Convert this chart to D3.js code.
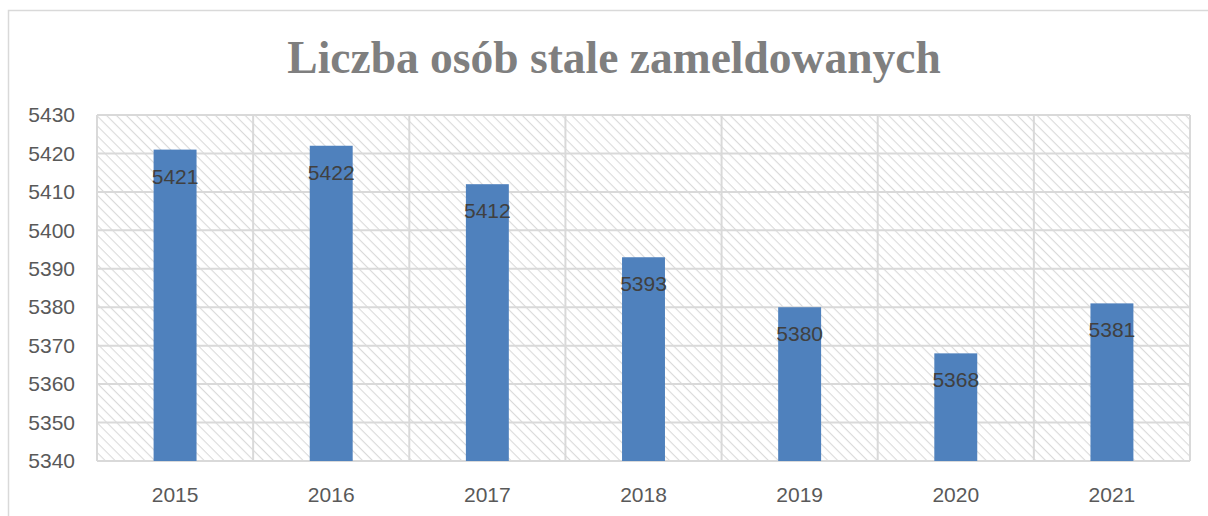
<!DOCTYPE html>
<html>

<head>
	<meta charset="utf-8">
	<script src="https://cdn.jsdelivr.net/npm/d3@7"></script>
	<style>
		body {
			margin: 0;
			background: #fff;
		}

		.tick text {
			font-family: "Liberation Sans", Arial, sans-serif;
			font-size: 21px;
			fill: #595959;
		}
	</style>
</head>

<body>
	<svg></svg>
	<script>
		var years = ["2015", "2016", "2017", "2018", "2019", "2020", "2021"];
		var residents = [5421, 5422, 5412, 5393, 5380, 5368, 5381];
		var yTicks = [5340, 5350, 5360, 5370, 5380, 5390, 5400, 5410, 5420, 5430];
		var title = "Liczba osób stale zameldowanych";

		var W = 1208, H = 516;
		var margins = { left: 97, right: 18, top: 115, bottom: 55 };
		var width = W - margins.left - margins.right;
		var height = H - margins.top - margins.bottom;

		var svg = d3.select("svg")
			.attr("width", W)
			.attr("height", H);

		// diagonal hatch behind the plot
		var pat = svg.append("defs").append("pattern")
			.attr("id", "hatch")
			.attr("patternUnits", "userSpaceOnUse")
			.attr("width", 7)
			.attr("height", 7)
			.attr("patternTransform", "rotate(45)");
		pat.append("rect").attr("width", 7).attr("height", 7).attr("fill", "#fff");
		pat.append("line")
			.attr("x1", 0).attr("y1", 0).attr("x2", 7).attr("y2", 0)
			.attr("stroke", "#dadada")
			.attr("stroke-width", 2.2);

		// outer chart border
		svg.append("rect")
			.attr("x", 8.5).attr("y", 10.5)
			.attr("width", W).attr("height", H)
			.attr("fill", "none")
			.attr("stroke", "#d9d9d9")
			.attr("stroke-width", 1.5);

		svg.append("text")
			.attr("x", 614)
			.attr("y", 73)
			.attr("text-anchor", "middle")
			.attr("font-family", "'Liberation Serif', 'DejaVu Serif', serif")
			.attr("font-weight", "bold")
			.attr("font-size", 45.5)
			.attr("fill", "#7f7f7f")
			.text(title);

		var g = svg.append("g")
			.attr("transform", "translate(" + margins.left + "," + margins.top + ")");

		var x = d3.scaleBand()
			.domain(years)
			.range([0, width])
			.paddingInner(0.725)
			.paddingOuter(0.3625);
		var xBand = d3.scaleBand().domain(years).range([0, width]);

		var y = d3.scaleLinear()
			.domain([5340, 5430])
			.range([height, 0]);

		g.append("rect")
			.attr("width", width)
			.attr("height", height)
			.attr("fill", "url(#hatch)");

		// horizontal grid
		g.selectAll(".hgrid")
			.data(yTicks)
			.enter()
			.append("line")
			.attr("class", "hgrid")
			.attr("x1", 0).attr("x2", width)
			.attr("y1", d => y(d)).attr("y2", d => y(d))
			.attr("stroke", "#d9d9d9")
			.attr("stroke-width", 2);

		// vertical grid at category edges
		var edges = years.map(d => xBand(d)).concat([width]);
		g.selectAll(".vgrid")
			.data(edges)
			.enter()
			.append("line")
			.attr("class", "vgrid")
			.attr("y1", 0).attr("y2", height)
			.attr("x1", d => d).attr("x2", d => d)
			.attr("stroke", "#d9d9d9")
			.attr("stroke-width", 2);

		g.selectAll(".bar")
			.data(residents)
			.enter()
			.append("rect")
			.attr("class", "bar")
			.attr("x", (d, i) => x(years[i]))
			.attr("y", d => y(d))
			.attr("width", x.bandwidth())
			.attr("height", d => height - y(d))
			.attr("fill", "#4f81bd");

		g.selectAll(".lbl")
			.data(residents)
			.enter()
			.append("text")
			.attr("class", "lbl")
			.attr("x", (d, i) => x(years[i]) + x.bandwidth() / 2)
			.attr("y", d => y(d) + 34)
			.attr("text-anchor", "middle")
			.attr("font-family", "'Liberation Sans', Arial, sans-serif")
			.attr("font-size", 21)
			.attr("fill", "#404040")
			.text(d => d);

		g.append("g")
			.attr("transform", "translate(0," + height + ")")
			.call(d3.axisBottom(xBand).tickSize(0).tickPadding(26))
			.call(a => a.select(".domain").remove());

		g.append("g")
			.call(d3.axisLeft(y).tickValues(yTicks).tickSize(0).tickPadding(22).tickFormat(d3.format("d")))
			.call(a => a.select(".domain").remove());
	</script>
</body>

</html>
